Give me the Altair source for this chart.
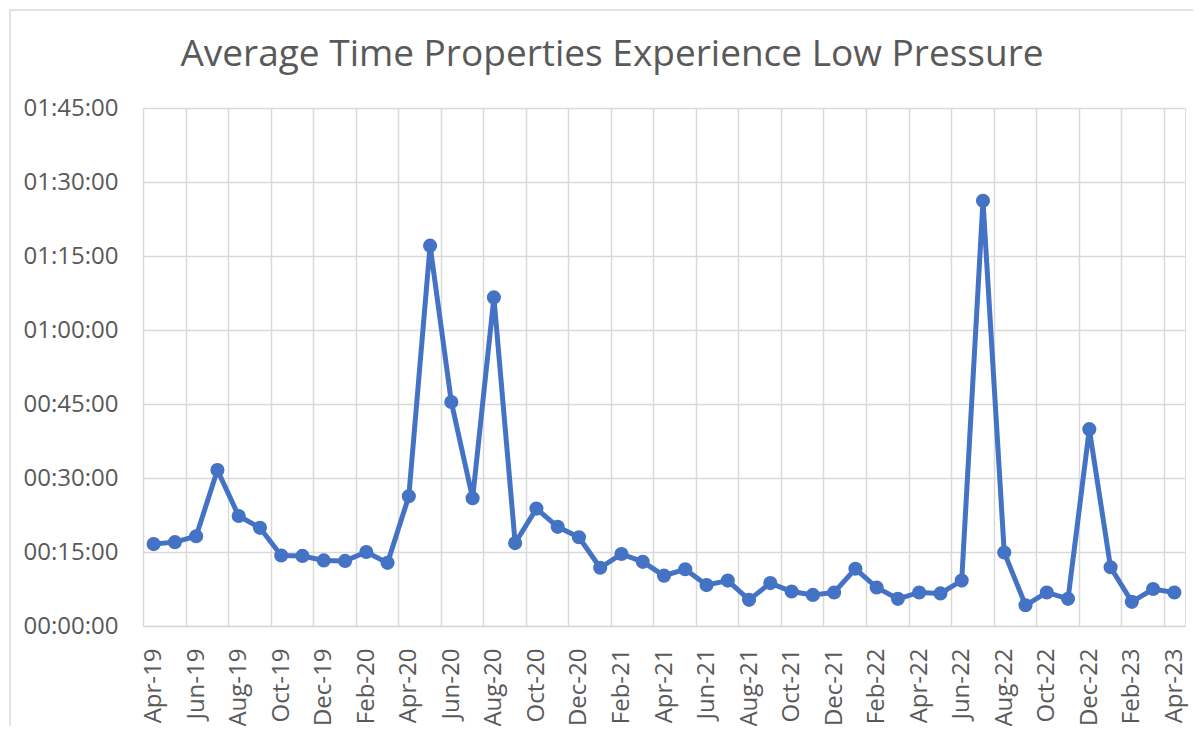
import altair as alt
import pandas as pd

months = [
    "Apr-19", "May-19", "Jun-19", "Jul-19", "Aug-19", "Sep-19", "Oct-19", "Nov-19", "Dec-19",
    "Jan-20", "Feb-20", "Mar-20", "Apr-20", "May-20", "Jun-20", "Jul-20", "Aug-20", "Sep-20",
    "Oct-20", "Nov-20", "Dec-20", "Jan-21", "Feb-21", "Mar-21", "Apr-21", "May-21", "Jun-21",
    "Jul-21", "Aug-21", "Sep-21", "Oct-21", "Nov-21", "Dec-21", "Jan-22", "Feb-22", "Mar-22",
    "Apr-22", "May-22", "Jun-22", "Jul-22", "Aug-22", "Sep-22", "Oct-22", "Nov-22", "Dec-22",
    "Jan-23", "Feb-23", "Mar-23", "Apr-23",
]

# average time in minutes
minutes = [
    16.6, 17.0, 18.2, 31.6, 22.3, 19.9, 14.3, 14.2, 13.3,
    13.2, 15.0, 12.8, 26.3, 77.1, 45.4, 25.9, 66.6, 16.8,
    23.8, 20.1, 18.0, 11.8, 14.6, 13.0, 10.2, 11.5, 8.3,
    9.2, 5.3, 8.7, 7.0, 6.3, 6.8, 11.6, 7.8, 5.5,
    6.8, 6.6, 9.2, 86.2, 14.9, 4.2, 6.8, 5.5, 39.9,
    11.9, 4.9, 7.5, 6.8,
]

y_ticks_min = [0, 15, 30, 45, 60, 75, 90, 105]

TITLE = "Average Time Properties Experience Low Pressure"

W, H = 1042, 518
n = len(months)
df = pd.DataFrame({
    "idx": list(range(n)),
    "month": months,
    "seconds": [m * 60 for m in minutes],
})

FONT = "Open Sans"
GRAY_TXT = "#595959"
GRID = "#d9d9d9"
BLUE = "#4472C4"

label_array = "[" + ",".join("'" + m + "'" for m in months) + "]"
grid_vals = [i - 0.5 for i in range(0, n, 2)]

x_enc = alt.X(
    "idx:Q",
    scale=alt.Scale(domain=[-0.5, n - 0.5], nice=False, zero=False),
    axis=alt.Axis(
        values=grid_vals,
        labelExpr=label_array + "[datum.value + 0.5]",
        labelAngle=-90,
        labelAlign="right",
        labelBaseline="middle",
        labelOffset=W / n / 2,
        labelPadding=22,
        labelFont=FONT,
        labelFontSize=24,
        labelColor=GRAY_TXT,
        ticks=False,
        tickSize=0,
        grid=True,
        gridColor=GRID,
        gridWidth=1.5,
        domainColor=GRID,
        domainWidth=1.5,
        title=None,
        labelOverlap=False,
        labelBound=False,
        labelFlush=False,
    ),
)

y_enc = alt.Y(
    "seconds:Q",
    scale=alt.Scale(domain=[0, 105 * 60], nice=False),
    axis=alt.Axis(
        values=[v * 60 for v in y_ticks_min],
        labelExpr="utcFormat(datum.value * 1000, '%H:%M:%S')",
        labelFont=FONT,
        labelFontSize=24,
        labelColor=GRAY_TXT,
        labelPadding=25,
        ticks=False,
        tickSize=0,
        domain=False,
        grid=True,
        gridColor=GRID,
        gridWidth=1.5,
        title=None,
        labelFlush=False,
        labelOverlap=False,
    ),
)

line = alt.Chart(df).mark_line(
    color=BLUE, strokeWidth=5,
    point=alt.OverlayMarkDef(filled=True, color=BLUE, size=200, opacity=1),
).encode(x=x_enc, y=y_enc, tooltip=["month", "seconds"])

border = alt.Chart(pd.DataFrame({"a": [0]})).mark_rect(
    fill="transparent", stroke=GRID, strokeWidth=1.5
).encode(
    x=alt.value(-133), x2=alt.value(W + 40),
    y=alt.value(-98), y2=alt.value(H + 140),
)

chart = alt.layer(border, line).properties(
    width=W,
    height=H,
    title=alt.TitleParams(
        TITLE, font=FONT, fontSize=37, fontWeight="normal", color=GRAY_TXT,
        anchor="middle", dx=-52, offset=-94, baseline="alphabetic",
    ),
    autosize=alt.AutoSizeParams(type="none"),
    padding={"left": 135, "top": 100, "right": 8, "bottom": 100},
).configure_view(stroke=None).configure(background="white")

chart.save("out.html", embed_options={"renderer": "svg", "actions": False})
